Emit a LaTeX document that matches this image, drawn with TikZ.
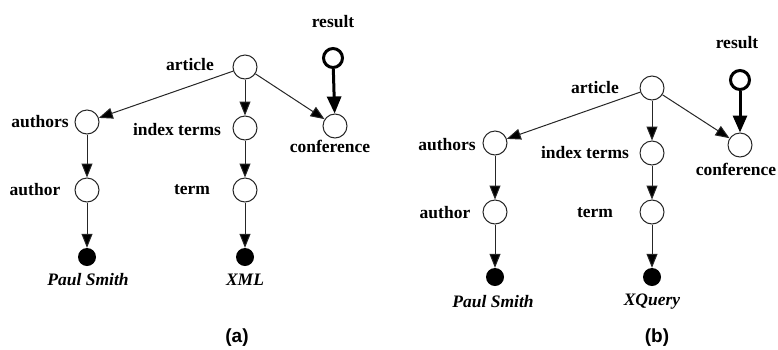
\documentclass[tikz,border=0pt]{standalone}
\usepackage{fontspec}
\setmainfont{Liberation Serif}
\newfontfamily\capfont{Liberation Sans}
\usetikzlibrary{arrows.meta}
\begin{document}
\begin{tikzpicture}[x=1pt,y=-1pt,
  vtx/.style={circle,draw=black!85,line width=1pt,inner sep=0pt,minimum size=24pt,fill=white},
  leaf/.style={circle,fill=black,inner sep=0pt,minimum size=18pt},
  res/.style={circle,draw=black,line width=3pt,inner sep=0pt,minimum size=19pt,fill=white},
  lbl/.style={inner sep=0pt,font=\bfseries\fontsize{17.5}{20}\selectfont},
  val/.style={inner sep=0pt,font=\bfseries\itshape\fontsize{17.5}{20}\selectfont},
  subcap/.style={inner sep=0pt,font=\capfont\bfseries\fontsize{19}{21}\selectfont},
  edge/.style={draw=black!85,line width=1pt,-{Triangle[length=14pt,width=11pt,fill=black]}},
  resedge/.style={draw=black,line width=3pt,-{Triangle[length=17pt,width=14pt,fill=black]}}]
\useasboundingbox (0,0) rectangle (778,349);

% ---- tree (a) ----
\node[vtx] (aArt) at (245,67) {};
\node[res] (aRes) at (333,58) {};
\node[vtx] (aConf) at (335,126) {};
\node[vtx] (aAuths) at (87,122) {};
\node[vtx] (aIdx) at (245,128) {};
\node[vtx] (aAuth) at (87,190) {};
\node[vtx] (aTerm) at (245,190) {};
\node[leaf] (aPaul) at (87,257) {};
\node[leaf] (aXml) at (245,257) {};

\node[lbl] (aArtL) at (190,65) {article};
\node[lbl] (aResL) at (333,22) {result};
\node[lbl] (aConfL) at (330,146) {conference};
\node[lbl] (aAuthsL) at (40,122) {authors};
\node[lbl] (aIdxL) at (177,130) {index terms};
\node[lbl] (aAuthL) at (35,190) {author};
\node[lbl] (aTermL) at (192,190) {term};
\node[val] (aPaulL) at (88,280) {Paul Smith};
\node[val] (aXmlL) at (245,280) {XML};
\node[subcap] (aCap) at (237,338) {(a)};

\draw[edge] (aArt) -- (aAuths);
\draw[edge] (aArt) -- (aIdx);
\draw[edge] (aArt) -- (aConf);
\draw[resedge] (aRes) -- (aConf);
\draw[edge] (aAuths) -- (aAuth);
\draw[edge] (aAuth) -- (aPaul);
\draw[edge] (aIdx) -- (aTerm);
\draw[edge] (aTerm) -- (aXml);

% ---- tree (b) ----
\node[vtx] (bArt) at (652,88) {};
\node[res] (bRes) at (740,80) {};
\node[vtx] (bConf) at (740,145) {};
\node[vtx] (bAuths) at (495,143) {};
\node[vtx] (bIdx) at (652,153) {};
\node[vtx] (bAuth) at (495,212) {};
\node[vtx] (bTerm) at (652,212) {};
\node[leaf] (bPaul) at (495,277) {};
\node[leaf] (bXq) at (652,277) {};

\node[lbl] (bArtL) at (595,88) {article};
\node[lbl] (bResL) at (737,43) {result};
\node[lbl] (bConfL) at (736,169) {conference};
\node[lbl] (bAuthsL) at (447,145) {authors};
\node[lbl] (bIdxL) at (585,153) {index terms};
\node[lbl] (bAuthL) at (445,213) {author};
\node[lbl] (bTermL) at (595,213) {term};
\node[val] (bPaulL) at (493,302) {Paul Smith};
\node[val] (bXqL) at (652,302) {XQuery};
\node[subcap] (bCap) at (657,338) {(b)};

\draw[edge] (bArt) -- (bAuths);
\draw[edge] (bArt) -- (bIdx);
\draw[edge] (bArt) -- (bConf);
\draw[resedge] (bRes) -- (bConf);
\draw[edge] (bAuths) -- (bAuth);
\draw[edge] (bAuth) -- (bPaul);
\draw[edge] (bIdx) -- (bTerm);
\draw[edge] (bTerm) -- (bXq);
\end{tikzpicture}
\end{document}
